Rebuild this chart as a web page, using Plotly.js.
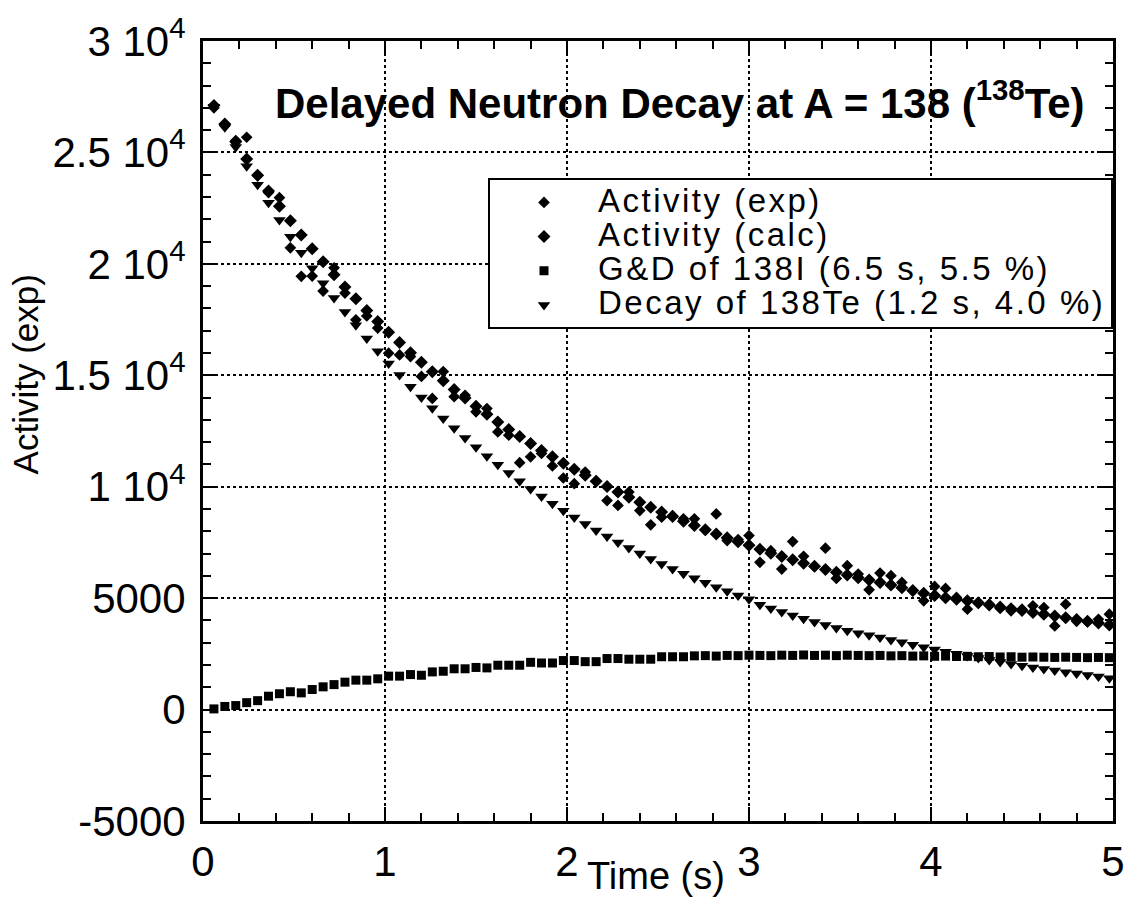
<!DOCTYPE html>
<html>
<head>
<meta charset="utf-8">
<script src="https://cdn.plot.ly/plotly-3.0.1.min.js"></script>
<style>
html,body{margin:0;padding:0;background:#fff;}
#chart{width:1128px;height:912px;}
</style>
</head>
<body>
<div id="chart"></div>
<script>
// Time (s)
var time = [0.06,0.12,0.18,0.24,0.30,0.36,0.42,0.48,0.54,0.60,0.66,0.72,0.78,0.84,0.90,0.96,1.02,1.08,1.14,1.20,
  1.26,1.32,1.38,1.44,1.50,1.56,1.62,1.68,1.74,1.80,1.86,1.92,1.98,2.04,2.10,2.16,2.22,2.28,2.34,2.40,
  2.46,2.52,2.58,2.64,2.70,2.76,2.82,2.88,2.94,3.00,3.06,3.12,3.18,3.24,3.30,3.36,3.42,3.48,3.54,3.60,
  3.66,3.72,3.78,3.84,3.90,3.96,4.02,4.08,4.14,4.20,4.26,4.32,4.38,4.44,4.50,4.56,4.62,4.68,4.74,4.80,
  4.86,4.92,4.98];

// Activity (exp)
var activityExp = [27000,26200,25530,25680,23950,23200,22970,20720,19440,19450,
  18780,19820,18690,17490,17660,17120,15990,15915,15840,14950,
  13960,15165,14040,14100,13360,13510,12460,12310,11080,11340,
  11490,10930,10390,10135,10660,10250,9380,9160,9760,8930,
  8290,8635,8700,8560,8560,8050,8780,7583,7630,7808,
  6607,7130,6306,7540,6877,6420,7240,5887,6456,6081,
  5375,6126,6006,5706,5330,4880,5526,5435,5030,4505,
  4775,4730,4535,4430,4505,4655,4580,3752,4730,3960,
  3933,4054,4279];

// Activity (calc)
var activityCalc = [27110,26280,25480,24700,23980,23270,22590,21930,21290,20680,
  20090,19510,18960,18430,17910,17410,16930,16470,16010,15580,
  15160,14750,14360,13980,13610,13250,12900,12570,12250,11940,
  11630,11340,11050,10780,10520,10250,10010,9760,9530,9300,
  9080,8860,8660,8450,8260,8070,7880,7710,7530,7370,
  7190,7020,6870,6720,6570,6430,6290,6160,6040,5920,
  5810,5700,5590,5470,5340,5220,5120,5020,4950,4880,
  4790,4690,4600,4520,4440,4360,4280,4200,4120,4040,
  3960,3880,3800];

// G&D of 138I
var gdI = [30,140,180,310,400,600,710,800,750,900,
  1020,1120,1230,1320,1320,1380,1500,1500,1570,1540,
  1690,1720,1830,1830,1890,1870,1990,1990,1990,2120,
  2090,2090,2200,2200,2150,2150,2290,2290,2260,2260,
  2260,2370,2370,2370,2410,2420,2400,2430,2420,2440,
  2430,2420,2440,2430,2450,2430,2440,2420,2440,2430,
  2420,2430,2410,2420,2400,2410,2390,2400,2380,2390,
  2370,2380,2360,2370,2350,2360,2350,2340,2350,2340,
  2330,2340,2330];

// Decay of 138Te
var decayTe = [27050,26130,25240,24380,23550,22740,21970,21220,20500,19800,
  19130,18470,17840,17240,16650,16080,15530,15010,14490,14000,
  13520,13060,12620,12190,11770,11370,10980,10610,10250,9900,
  9560,9240,8920,8620,8330,8040,7770,7500,7250,7000,
  6760,6530,6310,6090,5890,5690,5490,5310,5120,4950,
  4700,4530,4380,4220,4070,3930,3790,3660,3540,3430,
  3330,3230,3120,3020,2910,2800,2700,2600,2500,2400,
  2310,2220,2130,2050,1970,1890,1820,1750,1680,1620,
  1550,1480,1410];

var seriesNames = ['Activity (exp)','Activity (calc)','G&amp;D of 138I (6.5 s, 5.5 %)','Decay of 138Te (1.2 s, 4.0 %)'];

var yTickVals = [-5000,0,5000,10000,15000,20000,25000,30000];
var yTickText = ['-5000','0','5000','1 10<sup>4</sup>','1.5 10<sup>4</sup>','2 10<sup>4</sup>','2.5 10<sup>4</sup>','3 10<sup>4</sup>'];
var xTickVals = [0,1,2,3,4,5];
var xTickText = ['0','1','2','3','4','5'];

var FONT = 'Liberation Sans, Arial, Helvetica, sans-serif';
function nm(s){ return '<span style="font-size:33px;letter-spacing:2.5px">' + s + '</span>'; }

var traces = [
  {x: time, y: activityExp, name: nm(seriesNames[0]), type: 'scatter', mode: 'markers',
   marker: {symbol: 'diamond', size: 9, color: '#000'}},
  {x: time, y: activityCalc, name: nm(seriesNames[1]), type: 'scatter', mode: 'markers',
   marker: {symbol: 'diamond', size: 10, color: '#000'}},
  {x: time, y: gdI, name: nm(seriesNames[2]), type: 'scatter', mode: 'markers',
   marker: {symbol: 'square', size: 9, color: '#000'}},
  {x: time, y: decayTe, name: nm(seriesNames[3]), type: 'scatter', mode: 'markers',
   marker: {symbol: 'triangle-down', size: 11, color: '#000'}}
];

var axisCommon = {
  showline: true, linecolor: '#000', linewidth: 3, mirror: 'allticks',
  ticks: 'inside', tickcolor: '#000', tickwidth: 2, ticklen: 14,
  showgrid: true, gridcolor: '#000', gridwidth: 2, griddash: 'dot',
  zeroline: false, tickmode: 'array',
  tickfont: {family: FONT, size: 42, color: '#000'}
};

var layout = {
  width: 1128, height: 912,
  margin: {l: 203, r: 15, t: 41, b: 91},
  paper_bgcolor: '#fff', plot_bgcolor: '#fff',
  showlegend: true,
  xaxis: Object.assign({}, axisCommon, {
    range: [0, 5], tickvals: xTickVals, ticktext: xTickText,
    ticklabelstandoff: 2,
    minor: {ticks: 'inside', ticklen: 8, tickwidth: 2, tickcolor: '#000', dtick: 0.2, showgrid: false}
  }),
  yaxis: Object.assign({}, axisCommon, {
    range: [-5000, 30000], tickvals: yTickVals, ticktext: yTickText,
    ticklabelstandoff: 6,
    minor: {ticks: 'inside', ticklen: 8, tickwidth: 2, tickcolor: '#000', dtick: 1000, showgrid: false}
  }),
  legend: {
    x: 1, xanchor: 'right', y: 0.824, yanchor: 'top',
    bgcolor: '#fff', bordercolor: '#000', borderwidth: 2,
    font: {family: FONT, size: 24, color: '#000'},
    itemwidth: 98, tracegroupgap: 0
  },
  annotations: [
    {xref: 'paper', yref: 'paper', x: 0.524, y: 0.924, xanchor: 'center', yanchor: 'middle',
     showarrow: false, text: '<b>Delayed Neutron Decay at A = 138 (<sup>138</sup>Te)</b>',
     font: {family: FONT, size: 42, color: '#000'}},
    {xref: 'paper', yref: 'paper', x: 0.498, y: -0.07, xanchor: 'center', yanchor: 'middle',
     showarrow: false, text: 'Time (s)', font: {family: FONT, size: 38, color: '#000'}},
    {xref: 'paper', yref: 'paper', x: -0.195, y: 0.572, xanchor: 'center', yanchor: 'middle',
     showarrow: false, textangle: -90, text: 'Activity (exp)', font: {family: FONT, size: 35, color: '#000'}}
  ]
};

Plotly.newPlot('chart', traces, layout, {displayModeBar: false, staticPlot: true});
</script>
</body>
</html>
